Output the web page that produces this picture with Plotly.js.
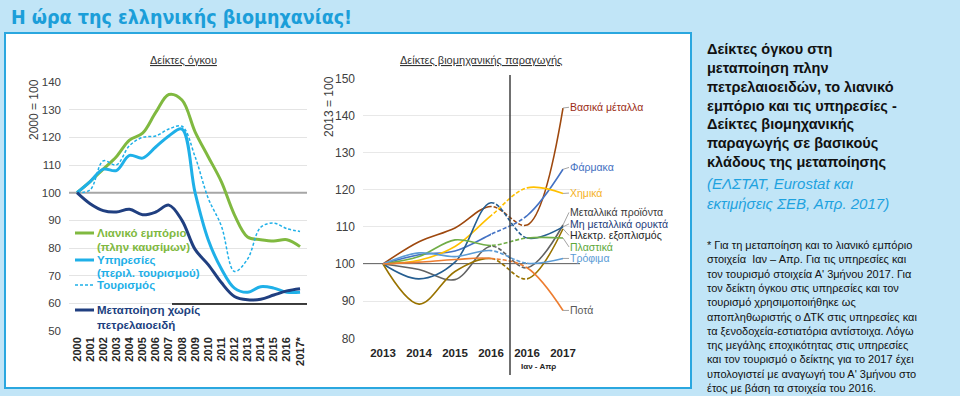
<!DOCTYPE html>
<html><head><meta charset="utf-8">
<script src="https://cdn.plot.ly/plotly-3.0.1.min.js"></script>
<style>html,body{margin:0;padding:0;background:#c1e5f7;} #chart{width:960px;height:396px;}</style>
</head><body><div id="chart"></div>
<script>
// ---------- Left chart: volume indices (2000 = 100) ----------
const years = ['2000','2001','2002','2003','2004','2005','2006','2007','2008','2009','2010','2011','2012','2013','2014','2015','2016','2017*'];
const retail        = [100,104,108.5,113,119,121.5,129,135.5,133.5,122,113,104,92,84,83,82.5,83,80.5];
const services      = [100,104,108.5,108,113.5,112.5,116.5,120.5,123,100,83,72.5,65.5,64,66,65.5,64,64];
const tourism       = [100,101,111.5,110,117,120,120.5,123,124,113,98,88,71.5,76,87.5,89,87,86];
const manufacturing = [100,96,93.5,93,94,92,93,95.5,90,79.5,74,67.5,62.5,61.3,61.5,63,64.5,65.3];
const leftNames = ['Λιανικό εμπόριο<br>(πλην καυσίμων)','Υπηρεσίες<br>(περιλ. τουρισμού)','Τουρισμός','Μεταποίηση χωρίς<br>πετρελαιοειδή'];

// ---------- Right chart: industrial production (2013 = 100) ----------
const periods = ['2013','2014','2015','2016','2016','2017'];
const basicMetals   = [100,106,109.7,115.5,110.5,142];
const pharma        = [100,102.5,103.5,108,113,125.5];
const chemicals     = [100,101,104.7,113,120.5,119];
const metalProducts = [100,98.5,95.8,104.8,99,110.5];
const nonMetallic   = [100,96,100.5,116.5,107,110];
const electrical    = [100,89.2,98,101.5,96,109.5];
const plastics      = [100,102,106.5,105,107,107];
const food          = [100,103,102,103.6,100.2,101.5];
const beverages     = [100,100.5,101.2,101.5,99,87.5];
const rightNames = ['Βασικά μέταλλα','Φάρμακα','Χημικά','Μεταλλικά προϊόντα','Μη μεταλλικά ορυκτά','Ηλεκτρ. εξοπλισμός','Πλαστικά','Τρόφιμα','Ποτά'];
const labelPos = [142.2,126,119.1,113.9,110.8,107.7,104.6,101.5,87.5];

const W = 960, H = 396;
const X = p => p / W, Y = p => 1 - p / H;
const FONT = 'Liberation Sans, Arial, sans-serif';

// left plot geometry
const L = {x0: 69, x1: 307, y0: 82, y1: 331, c0: 77, step: 13.12};
const lRange = [(L.x0 - L.c0) / L.step, (L.x1 - L.c0) / L.step];
// right plot geometry
const R = {x0: 363, x1: 580, y0: 78.3, y1: 338.3, c0: 383, step: 36};
const rIdx = px => (px - R.c0) / R.step;
const rPx = i => R.c0 + R.step * i;
const rRange = [rIdx(R.x0), rIdx(R.x1)];

const traces = [];
const leftSeries = [
  {y: retail, color: '#80b940', width: 3, dash: 'solid'},
  {y: services, color: '#1fb0e8', width: 3, dash: 'solid'},
  {y: tourism, color: '#1fb0e8', width: 1.5, dash: '3px,2px'},
  {y: manufacturing, color: '#203f80', width: 3, dash: 'solid'}
];
leftSeries.forEach((s, k) => traces.push({
  x: years, y: s.y, name: leftNames[k], type: 'scatter', mode: 'lines',
  line: {color: s.color, width: s.width, dash: s.dash, shape: 'spline', smoothing: 1},
  xaxis: 'x', yaxis: 'y', showlegend: false, hoverinfo: 'skip'
}));

const rightSeries = [
  {y: basicMetals, color: '#9e480e'},
  {y: pharma, color: '#4472c4'},
  {y: chemicals, color: '#ffc000'},
  {y: metalProducts, color: '#636363'},
  {y: nonMetallic, color: '#255e91'},
  {y: electrical, color: '#997300'},
  {y: plastics, color: '#70ad47'},
  {y: food, color: '#5b9bd5'},
  {y: beverages, color: '#ed7d31'}
];
const labelColors = ['#9b2d16','#3f6fbf','#f5b21f','#3a3a3a','#1f3d7a','#262626','#5da83a','#5b9bd5','#595959'];
const idx = periods.map((_, i) => i);
// invisible trace so that the tick axis subplot exists
traces.push({x: idx, y: food, xaxis: 'x2', yaxis: 'y2', mode: 'lines', opacity: 0, showlegend: false, hoverinfo: 'skip'});
// three clipped copies of each spline: solid | dashed | solid
[['x3','solid'],['x4','4px,2px'],['x5','solid']].forEach(([ax, dash]) => {
  rightSeries.forEach((s, k) => traces.push({
    x: idx, y: s.y, name: rightNames[k], type: 'scatter', mode: 'lines',
    line: {color: s.color, width: 1.6, dash: dash, shape: 'spline', smoothing: 1},
    xaxis: ax, yaxis: 'y2', showlegend: false, hoverinfo: 'skip'
  }));
});

const hiddenX = (d, r) => ({domain: d, range: r, anchor: 'y2', showgrid: false, zeroline: false, showline: false, showticklabels: false, ticks: '', fixedrange: true});
const pline = (x0, x1, y0, y1, line) => ({type: 'line', xref: 'paper', yref: 'paper', x0: X(x0), x1: X(x1), y0: Y(y0), y1: Y(y1), line: line});

const layout = {
  width: W, height: H, autosize: false,
  margin: {l: 0, r: 0, t: 0, b: 0, pad: 0},
  paper_bgcolor: '#c1e5f7', plot_bgcolor: 'rgba(0,0,0,0)',
  font: {family: FONT, color: '#404040'},
  showlegend: false,
  xaxis: {
    domain: [X(L.x0), X(L.x1)], anchor: 'y', type: 'category', categoryarray: years,
    range: lRange,
    tickangle: -90, tickfont: {size: 11, color: '#262626', family: FONT, weight: 'bold'},
    showgrid: false, zeroline: false, showline: false, ticks: '', ticklabelstandoff: 3
  },
  yaxis: {
    domain: [Y(L.y1), Y(L.y0)], anchor: 'x', range: [50, 140], dtick: 10,
    showgrid: true, gridcolor: '#e4e4e4', gridwidth: 1, zeroline: false, showline: false, ticks: '',
    tickfont: {size: 11.5, color: '#404040'}, ticklabelstandoff: 7
  },
  xaxis2: {
    domain: [X(R.x0), X(R.x1)], anchor: 'y2', range: rRange,
    tickvals: idx, ticktext: periods,
    tickfont: {size: 11.5, color: '#262626', family: FONT, weight: 'bold'},
    showgrid: false, zeroline: false, showline: false, ticks: '', ticklabelstandoff: 6
  },
  xaxis3: hiddenX([X(R.x0), X(rPx(3))], [rRange[0], 3]),
  xaxis4: hiddenX([X(rPx(3)), X(rPx(4))], [3, 4]),
  xaxis5: hiddenX([X(rPx(4)), X(R.x1)], [4, rRange[1]]),
  yaxis2: {
    domain: [Y(R.y1), Y(R.y0)], anchor: 'x2', range: [80, 150], dtick: 10,
    showgrid: true, gridcolor: '#e8e8e8', zeroline: false, showline: false, ticks: '',
    tickfont: {size: 12, color: '#404040'}, ticklabelstandoff: 7
  },
  shapes: [
    // white card
    {type: 'rect', xref: 'paper', yref: 'paper', x0: X(5), x1: X(691), y0: Y(388), y1: Y(33),
     fillcolor: '#ffffff', line: {color: '#2aa7df', width: 2}, layer: 'below'},
    // 100 reference line, left
    {type: 'line', xref: 'x', yref: 'y', x0: lRange[0], x1: lRange[1], y0: 100, y1: 100,
     line: {color: '#a6a6a6', width: 2}, layer: 'between'},
    // 100 reference line, right
    {type: 'line', xref: 'x2', yref: 'y2', x0: rRange[0], x1: rRange[1], y0: 100, y1: 100,
     line: {color: '#404040', width: 1.5}, layer: 'between'},
    // stray black rule in the left chart
    pline(172, 307, 304, 304, {color: '#000000', width: 1.5}),
    // separator between annual and Jan-Apr data
    pline(510, 510, 375, 75, {color: '#404040', width: 1.5}),
    // legend samples (left)
    pline(75, 94, 233, 233, {color: '#80b940', width: 3}),
    pline(75, 94, 260, 260, {color: '#1fb0e8', width: 3}),
    pline(75, 94, 285, 285, {color: '#1fb0e8', width: 1.5, dash: '3px,2px'}),
    pline(75, 94, 310, 310, {color: '#203f80', width: 3})
  ],
  annotations: []
};

const A = layout.annotations;
const ann = (o) => A.push(Object.assign({xref: 'paper', yref: 'paper', showarrow: false, xanchor: 'left', yanchor: 'middle'}, o));

// page title
ann({x: X(9), y: Y(17), text: '<b>Η ώρα της ελληνικής βιομηχανίας!</b>',
     font: {family: 'Liberation Sans Narrow, Arial Narrow, DejaVu Sans Condensed, sans-serif', size: 19.5, color: '#1b9ed9'}});
// chart titles
ann({x: X(183), y: Y(60), xanchor: 'center', text: '<span style="text-decoration:underline">Δείκτες όγκου</span>', font: {size: 11, color: '#333333'}});
ann({x: X(481), y: Y(60), xanchor: 'center', text: '<span style="text-decoration:underline">Δείκτες βιομηχανικής παραγωγής</span>', font: {size: 11, color: '#333333'}});
// y-axis titles
ann({x: X(34), y: Y(110), xanchor: 'center', textangle: -90, text: '2000 = 100', font: {size: 12, color: '#404040'}});
ann({x: X(329), y: Y(107), xanchor: 'center', textangle: -90, text: '2013 = 100', font: {size: 12, color: '#404040'}});
// left legend texts
const legTxt = [
  [233, 'Λιανικό εμπόριο', '#80b940'], [247, '(πλην καυσίμων)', '#80b940'],
  [260, 'Υπηρεσίες', '#1fb0e8'], [273, '(περιλ. τουρισμού)', '#1fb0e8'],
  [285, 'Τουρισμός', '#1fb0e8'],
  [310, 'Μεταποίηση χωρίς', '#203f80'], [325, 'πετρελαιοειδή', '#203f80']
];
legTxt.forEach(([py, t, c]) => ann({x: X(95), y: Y(py), text: '<b>' + t + '</b>', font: {size: 11.5, color: c}}));
// Jan-Apr sub label
ann({x: X(538), y: Y(366), xanchor: 'center', text: '<b>Ιαν - Απρ</b>', font: {size: 8, color: '#262626'}});
// right chart series labels with leader lines
rightSeries.forEach((s, k) => A.push({
  xref: 'x2', yref: 'y2', x: 5, y: s.y[5], axref: 'x2', ayref: 'y2', ax: rIdx(569), ay: labelPos[k],
  showarrow: true, arrowhead: 0, arrowwidth: 0.8, arrowcolor: '#8c8c8c', standoff: 0,
  xanchor: 'left', yanchor: 'middle', borderpad: 0, text: rightNames[k], font: {size: 10.5, color: labelColors[k]}
}));
// side panel
ann({x: X(705), y: Y(105), text: '<b>Δείκτες όγκου στη<br>μεταποίηση πλην<br>πετρελαιοειδών, το λιανικό<br>εμπόριο και τις υπηρεσίες -<br>Δείκτες βιομηχανικής<br>παραγωγής σε βασικούς<br>κλάδους της μεταποίησης</b>',
     align: 'left', font: {size: 14.5, color: '#111111'}});
ann({x: X(705), y: Y(193), text: '<i>(ΕΛΣΤΑΤ, Eurostat και<br>εκτιμήσεις ΣΕΒ, Απρ. 2017)</i>',
     align: 'left', font: {size: 15, color: '#1ea2df'}});
ann({x: X(705), y: Y(316), align: 'left', font: {size: 11, color: '#111111'},
     text: '* Για τη μεταποίηση και το λιανικό εμπόριο<br>στοιχεία  Ιαν – Απρ. Για τις υπηρεσίες και<br>τον τουρισμό στοιχεία Α\' 3μήνου 2017. Για<br>τον δείκτη όγκου στις υπηρεσίες και τον<br>τουρισμό χρησιμοποιήθηκε ως<br>αποπληθωριστής ο ΔΤΚ στις υπηρεσίες και<br>τα ξενοδοχεία-εστιατόρια αντίστοιχα. Λόγω<br>της μεγάλης εποχικότητας στις υπηρεσίες<br>και τον τουρισμό ο δείκτης για το 2017 έχει<br>υπολογιστεί με αναγωγή του Α\' 3μήνου στο<br>έτος με βάση τα στοιχεία του 2016.'});

Plotly.newPlot('chart', traces, layout, {staticPlot: true, displayModeBar: false});
</script></body></html>
